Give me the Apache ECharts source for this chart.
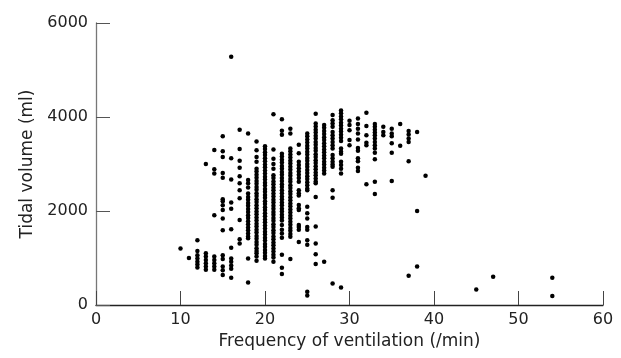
<!DOCTYPE html>
<html>
<head>
<meta charset="utf-8">
<script src="https://cdn.jsdelivr.net/npm/echarts@6/dist/echarts.min.js"></script>
<style>
  html, body { margin: 0; padding: 0; background: #fff; }
  #chart { width: 621px; height: 358px; }
</style>
</head>
<body>
<div id="chart"></div>
<script>
  // breaths per minute, one entry per column of dots
  var frequencies = [10, 11, 12, 13, 14, 15, 16, 17, 18, 19, 20, 21, 22, 23, 24, 25, 26, 27, 28, 29, 30, 31, 32, 33, 34, 35, 36, 37, 38, 39, 45, 47, 54];

  // tidal volumes (ml)
  var tidalVolumes = [
    [1200],
    [1000],
    [1380, 1150, 1060, 990, 920, 860, 800],
    [3000, 1100, 1030, 960, 890, 820, 750],
    [3300, 2890, 2800, 1910, 1030, 960, 890, 820, 750],
    [3590, 3270, 3150, 2810, 2710, 2250, 2210, 2120, 2020, 1840, 1590, 1060, 980, 820, 740, 640],
    [5280, 3120, 2670, 2180, 2050, 1610, 1220, 990, 920, 840, 770, 580],
    [3730, 3320, 3070, 2920, 2740, 2590, 2440, 2270, 1810, 1400, 1310],
    [3650, 2660, 2590, 2500, 2370, 2300, 2240, 2170, 2110, 2040, 1980, 1910, 1850, 1780, 1720, 1650, 1590, 1520, 1460, 1420, 990, 480],
    [3480, 3290, 3150, 3050, 2900, 2840, 2770, 2710, 2640, 2580, 2510, 2450, 2380, 2320, 2250, 2190, 2120, 2060, 1990, 1930, 1860, 1800, 1730, 1670, 1600, 1540, 1470, 1410, 1340, 1280, 1210, 1150, 1100, 1030, 940],
    [3380, 3320, 3250, 3190, 3120, 3060, 2990, 2930, 2860, 2800, 2730, 2670, 2600, 2540, 2470, 2410, 2340, 2280, 2210, 2150, 2080, 2020, 1950, 1890, 1820, 1760, 1690, 1630, 1560, 1500, 1430, 1370, 1300, 1240, 1170, 1110, 1040, 990],
    [4060, 3310, 3110, 3000, 2900, 2760, 2700, 2630, 2570, 2500, 2440, 2370, 2310, 2240, 2180, 2110, 2050, 1980, 1920, 1850, 1790, 1720, 1660, 1590, 1530, 1460, 1400, 1330, 1270, 1200, 1140, 1070, 1010, 920],
    [3950, 3710, 3620, 3220, 3160, 3090, 3030, 2960, 2900, 2830, 2770, 2700, 2640, 2570, 2510, 2440, 2380, 2310, 2250, 2180, 2120, 2050, 1990, 1920, 1860, 1800, 1700, 1600, 1520, 1430, 1070, 790, 660],
    [3750, 3650, 3330, 3270, 3200, 3140, 3070, 3010, 2940, 2880, 2810, 2750, 2680, 2620, 2550, 2490, 2420, 2360, 2290, 2230, 2160, 2100, 2030, 1970, 1900, 1840, 1770, 1710, 1640, 1580, 1510, 1450, 980],
    [3410, 3230, 3050, 2980, 2910, 2840, 2770, 2700, 2620, 2440, 2380, 2330, 2130, 2060, 2020, 1700, 1660, 1600, 1340],
    [3650, 3590, 3520, 3460, 3390, 3330, 3260, 3200, 3130, 3070, 3000, 2940, 2870, 2810, 2740, 2680, 2610, 2550, 2480, 2440, 2090, 1950, 1840, 1660, 1600, 1380, 1280, 280, 200],
    [4070, 3860, 3800, 3730, 3670, 3600, 3540, 3470, 3410, 3340, 3280, 3210, 3150, 3080, 3020, 2950, 2890, 2820, 2760, 2690, 2630, 2590, 2300, 1670, 1310, 1080, 870],
    [3830, 3770, 3700, 3640, 3570, 3510, 3440, 3380, 3310, 3250, 3180, 3120, 3050, 2990, 2920, 2860, 2800, 920],
    [4040, 3930, 3860, 3790, 3680, 3610, 3540, 3470, 3400, 3330, 3190, 3120, 3050, 2990, 2940, 2440, 2280, 460],
    [4140, 4080, 4010, 3950, 3880, 3820, 3750, 3690, 3620, 3560, 3490, 3330, 3260, 3220, 3050, 2980, 2900, 2800, 370],
    [3920, 3830, 3720, 3510, 3400],
    [3970, 3850, 3750, 3650, 3520, 3340, 3280, 3120, 3060, 2920, 2850],
    [4090, 3810, 3610, 3450, 3400, 2570],
    [3850, 3790, 3730, 3670, 3610, 3540, 3470, 3400, 3330, 3240, 3100, 2620, 2360],
    [3790, 3680, 3610],
    [3750, 3650, 3590, 3440, 3240, 2640],
    [3850, 3390],
    [3700, 3630, 3540, 3470, 3060, 620],
    [3680, 2000, 820],
    [2750],
    [330],
    [600],
    [580, 190]
  ];

  var xTicks = { min: 0, max: 60, step: 10 };
  var yTicks = { min: 0, max: 6000, step: 2000 };

  var points = [];
  frequencies.forEach(function (f, i) {
    tidalVolumes[i].forEach(function (v) {
      points.push([f, v]);
    });
  });

  var font = 'DejaVu Sans';
  var plain = function (v) { return String(v); };
  var myChart = echarts.init(document.getElementById('chart'));
  var option = {
    animation: false,
    backgroundColor: '#fff',
    grid: { left: 96, right: 18, top: 23, bottom: 53 },
    xAxis: {
      type: 'value',
      min: xTicks.min, max: xTicks.max, interval: xTicks.step,
      name: 'Frequency of ventilation (/min)',
      nameLocation: 'middle',
      nameGap: 28,
      nameTextStyle: { fontFamily: font, fontSize: 17, color: '#222', verticalAlign: 'top' },
      axisLine: { lineStyle: { color: '#222', width: 1.3 } },
      axisTick: { inside: true, length: 14, lineStyle: { color: '#444', width: 1 } },
      axisLabel: { margin: 7, fontFamily: font, fontSize: 16, color: '#222', formatter: plain },
      splitLine: { show: false }
    },
    yAxis: {
      type: 'value',
      min: yTicks.min, max: yTicks.max, interval: yTicks.step,
      name: 'Tidal volume (ml)',
      nameLocation: 'middle',
      nameGap: 60,
      nameTextStyle: { fontFamily: font, fontSize: 17, color: '#222' },
      axisLine: { show: true, lineStyle: { color: '#777', width: 1.3 } },
      axisTick: { show: true, inside: true, length: 14, lineStyle: { color: '#555', width: 1 } },
      axisLabel: { margin: 8, fontFamily: font, fontSize: 16, color: '#222', formatter: plain },
      splitLine: { show: false }
    },
    series: [{
      type: 'scatter',
      symbol: 'circle',
      symbolSize: 4.5,
      itemStyle: { color: '#000', opacity: 1 },
      data: points
    }]
  };
  myChart.setOption(option);
</script>
</body>
</html>
